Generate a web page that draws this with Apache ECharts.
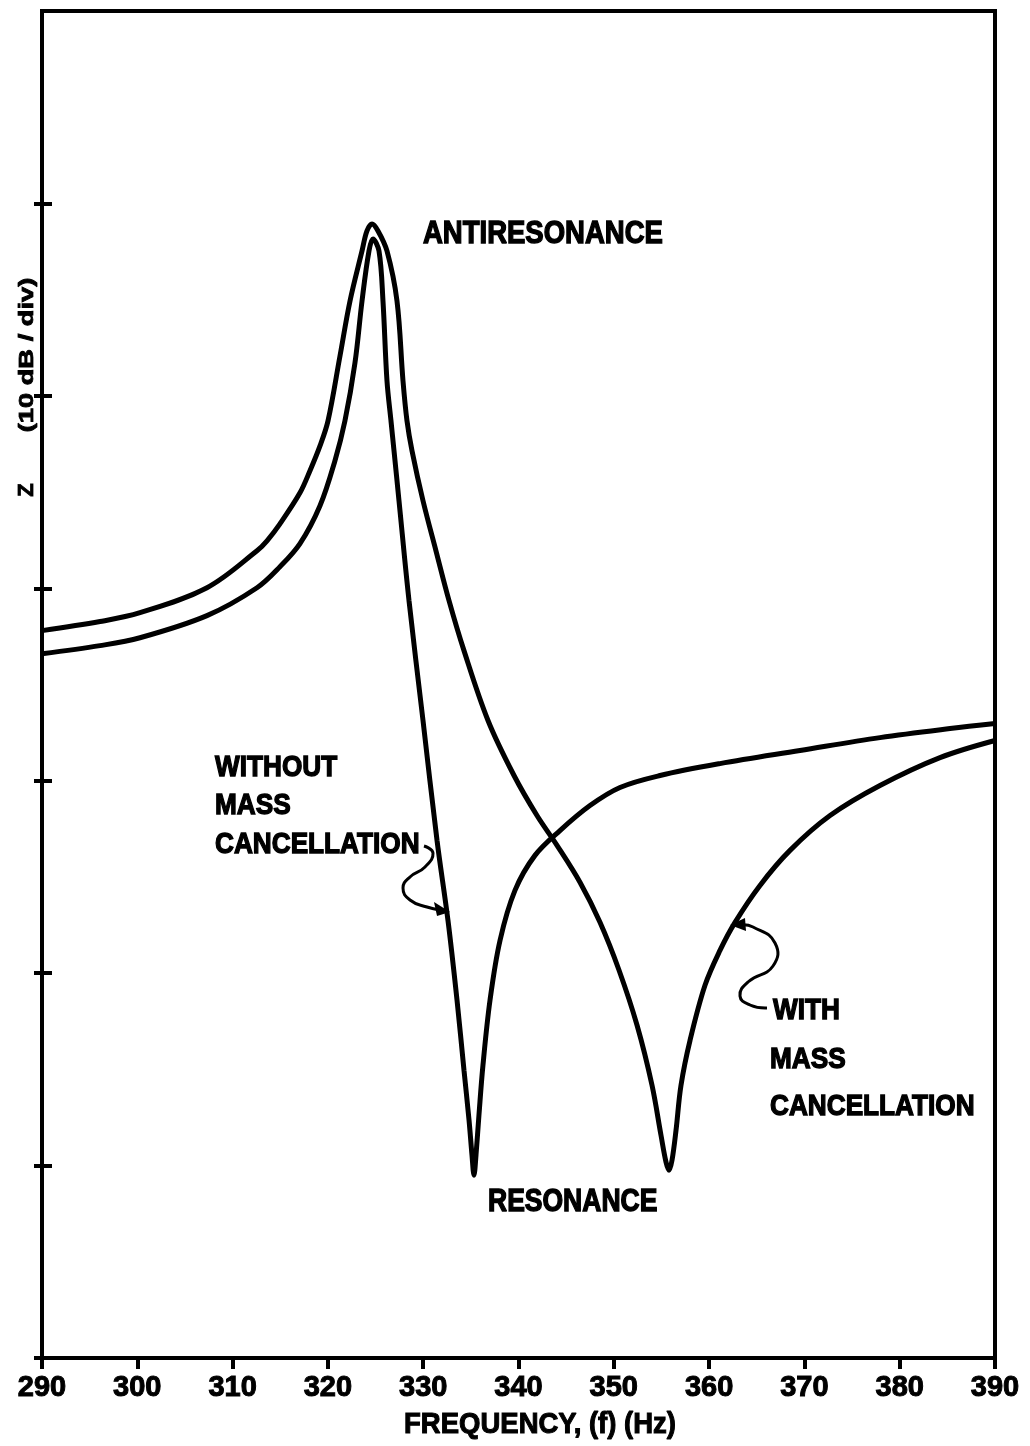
<!DOCTYPE html>
<html>
<head>
<meta charset="utf-8">
<script src="https://cdn.jsdelivr.net/npm/echarts@6/dist/echarts.min.js"></script>
<style>
html,body{margin:0;padding:0;background:#fff;}
#chart{width:1030px;height:1446px;}
</style>
</head>
<body>
<div id="chart"></div>
<script>
// Frequency ticks (Hz)
const xTicks = [290, 300, 310, 320, 330, 340, 350, 360, 370, 380, 390];
// Impedance Z in dB (10 dB per division), relative units
const freqWithout = [290.00, 296.09, 300.28, 307.31, 312.56, 314.97, 317.07, 319.17, 320.74, 321.79, 322.84, 323.58, 324.31, 324.73, 325.36, 325.78, 326.20, 326.62, 326.94, 327.46, 328.51, 329.98, 331.45, 332.60, 333.55, 334.28, 334.81, 335.12, 335.33, 335.54, 335.85, 336.27, 337.01, 338.06, 339.63, 341.73, 344.35, 347.50, 350.65, 354.85, 361.14, 369.54, 377.93, 385.28, 390.00];
const zWithout    = [36.60, 37.02, 37.43, 38.58, 40.03, 41.12, 42.32, 44.29, 46.63, 48.70, 51.71, 54.93, 57.53, 58.15, 57.53, 54.93, 50.78, 48.70, 47.14, 44.55, 39.36, 33.13, 26.90, 22.74, 18.59, 14.95, 12.36, 10.54, 9.50, 10.54, 12.62, 15.21, 18.59, 21.70, 24.30, 26.12, 27.41, 28.71, 29.65, 30.27, 30.89, 31.57, 32.24, 32.71, 32.97];
const freqWith = [290.00, 296.09, 300.28, 307.31, 312.56, 313.61, 314.97, 317.07, 318.12, 319.17, 320.01, 321.27, 322.32, 323.58, 324.10, 324.63, 325.26, 326.20, 327.25, 327.88, 328.30, 328.83, 329.98, 331.34, 332.71, 334.28, 336.80, 339.53, 341.94, 344.04, 346.45, 348.55, 350.55, 352.44, 354.01, 354.95, 355.48, 355.80, 356.11, 356.53, 357.05, 358.00, 359.57, 361.14, 362.72, 365.34, 368.49, 372.69, 377.93, 384.23, 390.00];
const zWith    = [37.80, 38.27, 38.73, 40.03, 41.95, 42.47, 43.35, 44.96, 46.11, 47.40, 48.70, 52.08, 54.93, 57.53, 58.57, 58.93, 58.57, 57.53, 54.93, 50.78, 48.70, 47.14, 44.55, 41.95, 39.36, 36.76, 33.13, 30.27, 28.19, 26.64, 24.72, 22.64, 20.15, 17.29, 14.17, 11.58, 10.18, 9.76, 10.28, 11.84, 14.17, 16.51, 19.37, 21.18, 22.64, 24.56, 26.38, 28.19, 29.75, 31.20, 32.09];
const yTicks = [0, 10, 20, 30, 40, 50, 60];

const chart = echarts.init(document.getElementById('chart'));
const FONT = '"Liberation Sans", Arial, sans-serif';
function label(text, x, y, size, sy) {
  return {type: 'text', x: x, y: y, scaleY: sy || 1.15, z: 10,
    style: {text: text, font: 'bold ' + size + 'px ' + FONT, fill: '#000', stroke: '#000', lineWidth: 1.2,
      align: 'left', verticalAlign: 'middle'}};
}
const baseX = {type: 'value', min: 290, max: 390, interval: 10};
const baseY = {type: 'value', min: 0, max: 70, interval: 10};
const option = {
  backgroundColor: '#fff',
  animation: false,
  grid: {left: 42, right: 35, top: 11, bottom: 88, show: true, borderColor: '#000', borderWidth: 4, backgroundColor: 'transparent'},
  xAxis: [
    Object.assign({}, baseX, {
      axisLine: {lineStyle: {color: '#000', width: 4}},
      axisTick: {show: true, inside: false, length: 11, lineStyle: {color: '#000', width: 4}},
      axisLabel: {show: true, color: '#000', fontFamily: FONT, fontWeight: 'bold', fontSize: 29, margin: 15,
        textBorderColor: '#000', textBorderWidth: 1,
        formatter: v => xTicks.indexOf(v) >= 0 ? String(v) : ''},
      splitLine: {show: false}
    }),
    Object.assign({}, baseX, {
      axisLine: {show: false},
      axisTick: {show: true, inside: true, length: 9, lineStyle: {color: '#000', width: 4}},
      axisLabel: {show: false}, splitLine: {show: false}
    })
  ],
  yAxis: [
    Object.assign({}, baseY, {
      axisLine: {show: true, lineStyle: {color: '#000', width: 4}},
      axisTick: {show: true, inside: false, length: 8, customValues: yTicks, lineStyle: {color: '#000', width: 4}},
      axisLabel: {show: false}, splitLine: {show: false}
    }),
    Object.assign({}, baseY, {
      position: 'left',
      axisLine: {show: false},
      axisTick: {show: true, inside: true, length: 10, customValues: yTicks.slice(1), lineStyle: {color: '#000', width: 4}},
      axisLabel: {show: false}, splitLine: {show: false}
    })
  ],
  series: [
    {name: 'WITHOUT MASS CANCELLATION', type: 'line', xAxisIndex: 0, yAxisIndex: 0,
      data: freqWithout.map((f, i) => [f, zWithout[i]]), showSymbol: false, smooth: 0.35,
      lineStyle: {color: '#000', width: 5}},
    {name: 'WITH MASS CANCELLATION', type: 'line', xAxisIndex: 0, yAxisIndex: 0,
      data: freqWith.map((f, i) => [f, zWith[i]]), showSymbol: false, smooth: 0.35,
      lineStyle: {color: '#000', width: 5}}
  ],
  graphic: [
    label('ANTIRESONANCE', 423, 234, 27.5, 1.17),
    label('WITHOUT', 215, 768, 26.2),
    label('MASS', 215, 806, 26.2),
    label('CANCELLATION', 215, 845, 26.2),
    label('WITH', 773, 1011, 26.2),
    label('MASS', 770, 1060, 26.2),
    label('CANCELLATION', 770, 1107, 26.2),
    label('RESONANCE', 488, 1203, 26.5),
    {type: 'text', x: 540, y: 1425, scaleY: 1.1, z: 10,
      style: {text: 'FREQUENCY, (f) (Hz)', font: 'bold 27.5px ' + FONT, fill: '#000', stroke: '#000', lineWidth: 1,
        align: 'center', verticalAlign: 'middle'}},
    {type: 'text', x: 27, y: 490, rotation: Math.PI / 2, z: 10,
      style: {text: 'Z', font: 'bold 22px ' + FONT, fill: '#000', stroke: '#000', lineWidth: 0.8, align: 'center', verticalAlign: 'middle'}},
    {type: 'text', x: 27, y: 355, rotation: Math.PI / 2, scaleX: 1.3, z: 10,
      style: {text: '(10 dB / div)', font: 'bold 21px ' + FONT, fill: '#000', stroke: '#000', lineWidth: 0.8, align: 'center', verticalAlign: 'middle'}},
    {type: 'polyline', z: 10, shape: {smooth: 0.5, points: [[424, 846], [433, 853], [425, 867], [410, 877], [403, 888], [410, 900], [427, 907], [440, 910]]},
      style: {stroke: '#000', lineWidth: 3, fill: null}},
    {type: 'polygon', z: 10, shape: {points: [[450, 912], [434, 902], [437, 916]]}, style: {fill: '#000'}},
    {type: 'polyline', z: 10, shape: {smooth: 0.5, points: [[740, 925], [753, 927], [775, 943], [773, 966], [748, 982], [740, 996], [750, 1005], [767, 1008]]},
      style: {stroke: '#000', lineWidth: 3, fill: null}},
    {type: 'polygon', z: 10, shape: {points: [[730, 925], [745, 918], [746, 931]]}, style: {fill: '#000'}}
  ]
};
chart.setOption(option);
</script>
</body>
</html>
